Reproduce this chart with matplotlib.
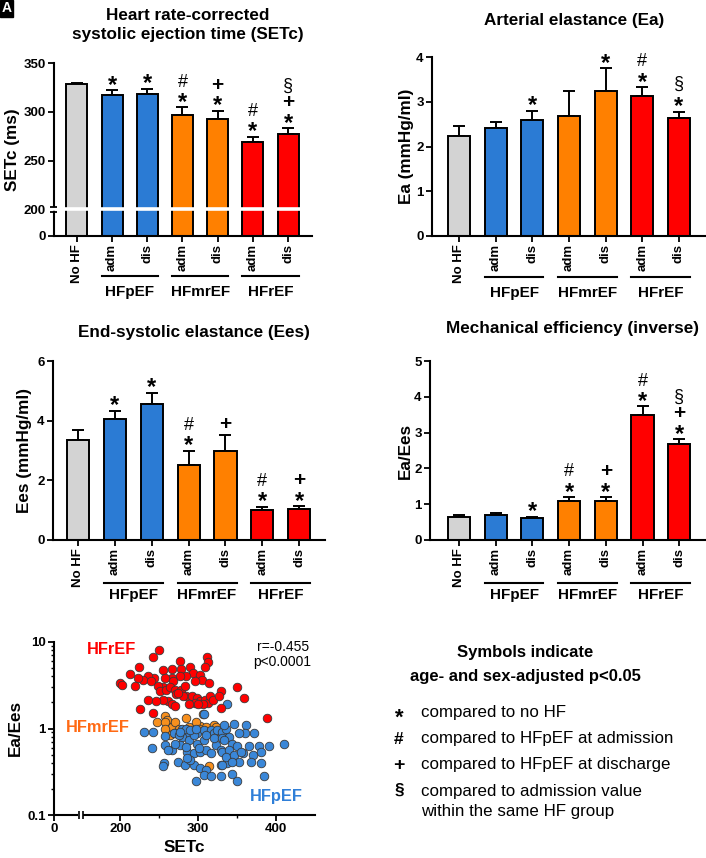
import numpy as np
import matplotlib
matplotlib.use('Agg')
import matplotlib.pyplot as plt
from matplotlib import transforms as mtrans
from matplotlib.lines import Line2D

plt.rcParams['font.family'] = ['Liberation Sans', 'DejaVu Sans']
plt.rcParams['font.weight'] = 'bold'

W, H = 706, 858

# ---------------- data ----------------
categories = ["No HF", "adm", "dis", "adm", "dis", "adm", "dis"]
groups = ["HFpEF", "HFmrEF", "HFrEF"]
group_members = [(1, 2), (3, 4), (5, 6)]
bar_colors = ["#D3D3D3", "#2B7BD4", "#2B7BD4", "#FF8000", "#FF8000", "#FF0000", "#FF0000"]

setc_mean = [328.5, 317, 318, 296.5, 292.5, 269, 277.5]
setc_err = [1, 5, 5.5, 8, 8.5, 5.5, 5.5]
setc_sig = ["", "*", "*", "#*", "+*", "#*", "§+*"]

ea_mean = [2.23, 2.42, 2.60, 2.68, 3.23, 3.12, 2.63]
ea_err = [0.22, 0.13, 0.20, 0.55, 0.52, 0.21, 0.15]
ea_sig = ["", "", "*", "", "*", "#*", "§*"]

ees_mean = [3.35, 4.04, 4.57, 2.50, 3.00, 1.00, 1.03]
ees_err = [0.35, 0.29, 0.36, 0.50, 0.52, 0.11, 0.11]
ees_sig = ["", "*", "*", "#*", "+", "#*", "+*"]

eff_mean = [0.65, 0.69, 0.61, 1.09, 1.09, 3.48, 2.68]
eff_err = [0.05, 0.07, 0.04, 0.11, 0.11, 0.25, 0.13]
eff_sig = ["", "", "*", "#*", "+*", "#*", "§+*"]

# scatter: SETc vs Ea/Ees
hfref_setc = [249.5, 242, 276.6, 311, 313, 309, 224.5, 266, 278.7, 289.5, 255, 294, 302.4, 285, 276.6,
              266, 244, 236, 229, 223, 213, 200, 203, 218.5, 240, 257, 268, 304.5, 296, 314, 255, 248.6,
              251, 259, 263.6, 270, 272, 278.7, 285, 291.6, 298, 302.4, 309, 313, 306.5, 315, 283, 281,
              274, 236, 261.5, 266, 270, 296, 300, 288, 226, 242, 255, 319.6, 246.5, 350.5, 359, 389,
              329, 327, 329]
hfref_ratio = [8.1, 6.7, 6.1, 6.7, 5.9, 5.2, 5.2, 4.9, 4.9, 5.2, 4.8, 4.4, 4.2, 4.0, 4.0, 3.8, 3.8, 4.0,
               3.6, 3.8, 4.3, 3.4, 3.2, 3.1, 3.5, 3.8, 3.5, 3.65, 3.5, 3.4, 3.0, 3.1, 2.7, 2.8, 3.0, 2.77,
               2.5, 2.8, 2.37, 2.37, 2.26, 2.06, 2.16, 1.98, 1.9, 2.37, 3.1, 2.37, 2.6, 2.16, 2.06, 1.9,
               1.8, 1.98, 1.94, 1.94, 1.66, 1.52, 2.16, 2.16, 2.06, 3.0, 2.26, 1.34, 2.7, 2.37, 1.74]

hfmref_setc = [257, 260, 247, 258, 266.7, 270, 264.5, 284, 288, 303, 306, 309.7, 320.4, 322.6, 314,
               281.7, 275, 258, 271, 297, 301]
hfmref_ratio = [1.39, 1.27, 1.19, 1.19, 1.05, 1.19, 0.83, 1.34, 1.05, 1.06, 1.46, 1.05, 1.09, 1.05, 0.37,
                0.88, 1.0, 1.0, 0.88, 1.19, 1.0]

hfpef_setc = [230, 242, 241, 257, 268.8, 279.6, 284, 279.6, 284, 299,
              307.5, 316, 320.4, 324.7, 331, 335.5, 258, 266.7, 277.4, 286,
              294.6, 303, 309.7, 316, 322.6, 329, 336, 299, 307.5, 309.7,
              320.4, 331, 262, 256, 254.6, 274, 283, 294.6, 302, 309.7,
              307.5, 297, 317, 329, 329, 337.6, 290, 286, 275, 271,
              288, 294.6, 301, 284, 333, 346, 361, 372, 360, 340,
              333, 344, 350.5, 357, 365.6, 370, 378.5, 380.6, 410.7, 331,
              340, 335.5, 346, 352.7, 344, 367.7, 380.6, 331, 344, 350.5,
              352.7, 355, 385, 390.5, 337, 307.5, 296, 277, 290, 297]
hfpef_ratio = [0.91, 0.91, 0.59, 0.81, 0.89, 1.0, 0.88, 0.80, 1.0, 0.88,
               0.95, 0.97, 0.88, 0.95, 0.91, 1.0, 0.64, 0.56, 0.64, 0.54,
               0.52, 0.54, 0.56, 0.52, 0.64, 0.56, 0.50, 0.67, 0.73, 0.83,
               0.77, 0.77, 0.56, 0.40, 0.37, 0.415, 0.38, 0.38, 0.345, 0.33,
               0.29, 0.25, 0.28, 0.28, 0.38, 0.40, 0.43, 0.45, 0.83, 0.67,
               0.73, 0.83, 0.59, 0.61, 1.09, 1.14, 1.09, 0.89, 0.89, 0.80,
               0.73, 0.67, 0.62, 0.52, 0.62, 0.50, 0.62, 0.54, 0.67, 0.54,
               0.56, 0.47, 0.50, 0.415, 0.415, 0.415, 0.40, 0.38, 0.30, 0.25,
               0.88, 0.54, 0.28, 0.62, 1.94, 1.46, 2.0, 0.91, 0.95, 1.0]

legend_symbols = ["*", "#", "+", "§"]
legend_texts = ["compared to no HF", "compared to HFpEF at admission",
                "compared to HFpEF at discharge",
                "compared to admission value\nwithin the same HF group"]

# ---------------- helpers ----------------
fig = plt.figure(figsize=(W / 100, H / 100), dpi=100)


def fx(x):
    return x / W


def fy(y):
    return 1 - y / H


def add_ax(x0, y0, x1, y1):
    return fig.add_axes([x0 / W, 1 - y1 / H, (x1 - x0) / W, (y1 - y0) / H])


def fig_line(x0, y0, x1, y1, lw=1.3, color='black'):
    fig.add_artist(Line2D([fx(x0), fx(x1)], [fy(y0), fy(y1)], transform=fig.transFigure,
                          color=color, lw=lw, solid_capstyle='butt'))


def data_to_px(ax, x, y):
    dx, dy = ax.transData.transform((x, y))
    return dx, H - dy


SYM_SHIFT = {'*': 0.30, '#': 0.10, '+': 0.07, '§': -0.02}
SYM_SIZE = {'*': 17, '#': 13, '+': 15, '§': 13}
SYM_WEIGHT = {'*': 'bold', '#': 'normal', '+': 'bold', '§': 'normal'}


def put_symbol(x_px, y_px, s, size_scale=1.0):
    fs = SYM_SIZE[s] * size_scale
    shift_px = SYM_SHIFT[s] * fs / 0.72
    fig.text(fx(x_px), fy(y_px + shift_px), s, ha='center', va='center', fontsize=fs,
             fontweight=SYM_WEIGHT[s], color='black')


def style_axes(ax):
    for side in ['top', 'right']:
        ax.spines[side].set_visible(False)
    for side in ['left', 'bottom']:
        ax.spines[side].set_linewidth(1.5)
    ax.tick_params(axis='both', which='major', length=4, width=1.3, labelsize=9.5, pad=2)


def bar_panel(ax, means, errs, sigs, xlim, ylim, yticks, title, title_y, ylabel, ylabel_x,
              line_y, label_y, scale=None):
    x = np.arange(len(categories))
    if scale is not None:
        ax.set_yscale('function', functions=scale)
    ax.errorbar(x, means, yerr=[np.zeros(len(errs)), errs], fmt='none', ecolor='black',
                elinewidth=1.4, capsize=4.5, capthick=1.4, zorder=1)
    ax.bar(x, means, width=0.6, color=bar_colors, edgecolor='black', linewidth=1.4, zorder=2)
    ax.set_xlim(*xlim)
    ax.set_ylim(*ylim)
    ax.set_yticks(yticks)
    ax.set_yticklabels([str(t) for t in yticks], fontweight='bold')
    ax.set_xticks(x)
    ax.set_xticklabels(categories, rotation=90, fontweight='bold', fontsize=9.8)
    style_axes(ax)
    # title
    x0_px, _ = data_to_px(ax, xlim[0], ylim[0])
    x1_px, _ = data_to_px(ax, xlim[1], ylim[0])
    fig.text(fx((x0_px + x1_px) / 2 + 5), fy(title_y), title, ha='center', va='center',
             fontsize=12.3, fontweight='bold', linespacing=1.25)
    # ylabel
    _, ytop = data_to_px(ax, 0, ylim[1])
    _, ybot = data_to_px(ax, 0, ylim[0])
    fig.text(fx(ylabel_x), fy((ytop + ybot) / 2), ylabel, rotation=90, ha='center', va='center',
             fontsize=12.3, fontweight='bold')
    # group lines + labels
    trans = mtrans.blended_transform_factory(ax.transData, fig.transFigure)
    for g, (i0, i1) in zip(groups, group_members):
        ax.add_artist(Line2D([i0 - 0.3, i1 + 0.3], [fy(line_y), fy(line_y)], transform=trans,
                             color='black', lw=1.5, clip_on=False))
        ax.text((i0 + i1) / 2, fy(label_y), g, transform=trans, ha='center', va='center',
                fontsize=11, fontweight='bold', clip_on=False)
    # significance symbols
    for i, s in enumerate(sigs):
        if not s:
            continue
        xp, yp = data_to_px(ax, i, means[i] + errs[i])
        for k, ch in enumerate(reversed(list(s))):
            put_symbol(xp, yp - 12 - 15 * k, ch)


# ---------------- panel A: SETc (broken axis) ----------------
def setc_fwd(y):
    y = np.asarray(y, dtype=float)
    return np.where(y <= 200, y * 79.0 / 200.0, 79.0 + (y - 200.0) * 2.9)


def setc_inv(u):
    u = np.asarray(u, dtype=float)
    return np.where(u <= 79.0, u * 200.0 / 79.0, 200.0 + (u - 79.0) / 2.9)


ax1 = add_ax(54, 63, 312, 236)
bar_panel(ax1, setc_mean, setc_err, setc_sig, (-0.65, 6.68), (0, 350), [0, 200, 250, 300, 350],
          "Heart rate-corrected\nsystolic ejection time (SETc)", 25, "SETc (ms)", 12, 276, 292,
          scale=(setc_fwd, setc_inv))
# white break band at 200
trans1 = mtrans.blended_transform_factory(ax1.transAxes, ax1.transData)
ax1.add_artist(Line2D([-0.01, 0.965], [200, 200], transform=trans1, color='white', lw=2.6,
                      zorder=10, clip_on=False))
bx, by = data_to_px(ax1, -0.65, 200)
fig_line(bx - 4, by - 2.2, bx + 3, by - 2.2, lw=1.3)
fig_line(bx - 4, by + 2.2, bx + 3, by + 2.2, lw=1.3)
ax1.yaxis.get_major_ticks()[1].tick1line.set_visible(False)

# ---------------- panel B: Ea ----------------
ax2 = add_ax(432, 57, 706, 236)
bar_panel(ax2, ea_mean, ea_err, ea_sig, (-0.74, 6.74), (0, 4), [0, 1, 2, 3, 4],
          "Arterial elastance (Ea)", 20, "Ea (mmHg/ml)", 407, 277, 293)

# ---------------- panel C: Ees ----------------
ax3 = add_ax(53, 361, 325, 540)
bar_panel(ax3, ees_mean, ees_err, ees_sig, (-0.68, 6.7), (0, 6), [0, 2, 4, 6],
          "End-systolic elastance (Ees)", 332, "Ees (mmHg/ml)", 25, 583, 595)

# ---------------- panel D: Ea/Ees ----------------
ax4 = add_ax(430, 361, 706, 540)
bar_panel(ax4, eff_mean, eff_err, eff_sig, (-0.79, 6.73), (0, 5), [0, 1, 2, 3, 4, 5],
          "Mechanical efficiency (inverse)", 329, "Ea/Ees", 405, 583, 595)

# ---------------- scatter ----------------
def sx_fwd(x):
    x = np.asarray(x, dtype=float)
    return np.where(x <= 150, x * 0.18, 27.0 + (x - 150.0) * 0.775)


def sx_inv(u):
    u = np.asarray(u, dtype=float)
    return np.where(u <= 27.0, u / 0.18, 150.0 + (u - 27.0) / 0.775)


ax5 = add_ax(54, 642, 315, 815)
ax5.set_xscale('function', functions=(sx_fwd, sx_inv))
ax5.set_yscale('log')
ax5.set_xlim(0, 450)
ax5.set_ylim(0.1, 10)
ax5.scatter(hfmref_setc, hfmref_ratio, s=38, color='#F7901E', edgecolors='#3a3a3a', linewidths=0.6,
            zorder=3)
ax5.scatter(hfpef_setc, hfpef_ratio, s=38, color='#3A87D8', edgecolors='#3a3a3a', linewidths=0.6,
            zorder=4)
ax5.scatter(hfref_setc, hfref_ratio, s=38, color='#FF0000', edgecolors='#3a3a3a', linewidths=0.6,
            zorder=5)
ax5.set_xticks([0, 200, 300, 400])
ax5.set_xticklabels(["0", "200", "300", "400"], fontweight='bold')
ax5.set_xticks([250, 350], minor=True)
ax5.set_yticks([0.1, 1, 10])
ax5.set_yticklabels(["0.1", "1", "10"], fontweight='bold')
ax5.set_yticks([v * d for d in (0.1, 1) for v in range(2, 10)], minor=True)
ax5.yaxis.set_minor_formatter(matplotlib.ticker.NullFormatter())
style_axes(ax5)
ax5.tick_params(axis='both', which='minor', length=2.5, width=1.0)
# x-axis break
bx, by = data_to_px(ax5, 150, 0.1)
fig_line(bx - 2.8, by, bx + 1.8, by, lw=3.0, color='white')
fig_line(bx - 2.6, by - 4, bx - 2.6, by + 4, lw=1.2)
fig_line(bx + 1.6, by - 4, bx + 1.6, by + 4, lw=1.2)

fig.text(fx(184.5), fy(847), "SETc", ha='center', va='center', fontsize=12.3, fontweight='bold')
fig.text(fx(15), fy(728), "Ea/Ees", rotation=90, ha='center', va='center', fontsize=12.3,
         fontweight='bold')
fig.text(fx(111), fy(649), "HFrEF", color='#FF0000', ha='center', va='center', fontsize=11.8,
         fontweight='bold')
fig.text(fx(98), fy(728), "HFmrEF", color='#FF6A14', ha='center', va='center', fontsize=11.8,
         fontweight='bold')
fig.text(fx(276), fy(796), "HFpEF", color='#2F7FD8', ha='center', va='center', fontsize=11.8,
         fontweight='bold')
fig.text(fx(309), fy(647), "r=-0.455", ha='right', va='center', fontsize=10, fontweight='normal')
fig.text(fx(311), fy(662), "p<0.0001", ha='right', va='center', fontsize=10, fontweight='normal')

# ---------------- symbol legend ----------------
fig.text(fx(525), fy(653), "Symbols indicate", ha='center', va='center', fontsize=12,
         fontweight='bold')
fig.text(fx(525), fy(677), "age- and sex-adjusted p<0.05", ha='center', va='center', fontsize=12,
         fontweight='bold')
leg_y = [712, 738, 764, 791]
for s, t, yy in zip(legend_symbols, legend_texts, leg_y):
    fs = {'*': 16, '#': 12.5, '+': 14, '§': 12.5}[s]
    shift_px = SYM_SHIFT[s] * fs / 0.72
    fig.text(fx(399), fy(yy + shift_px), s, ha='center', va='center', fontsize=fs,
             fontweight='bold')
    fig.text(fx(421), fy(yy - 7), t, ha='left', va='top', fontsize=12.2, fontweight='normal',
             linespacing=1.45)

# panel letter (cropped in original)
fig.text(fx(1.5), fy(1.5), "A", ha='left', va='top', fontsize=10, fontweight='bold', color='white',
         bbox=dict(facecolor='black', edgecolor='black', pad=1.2))

fig.savefig('out.png', dpi=100)
